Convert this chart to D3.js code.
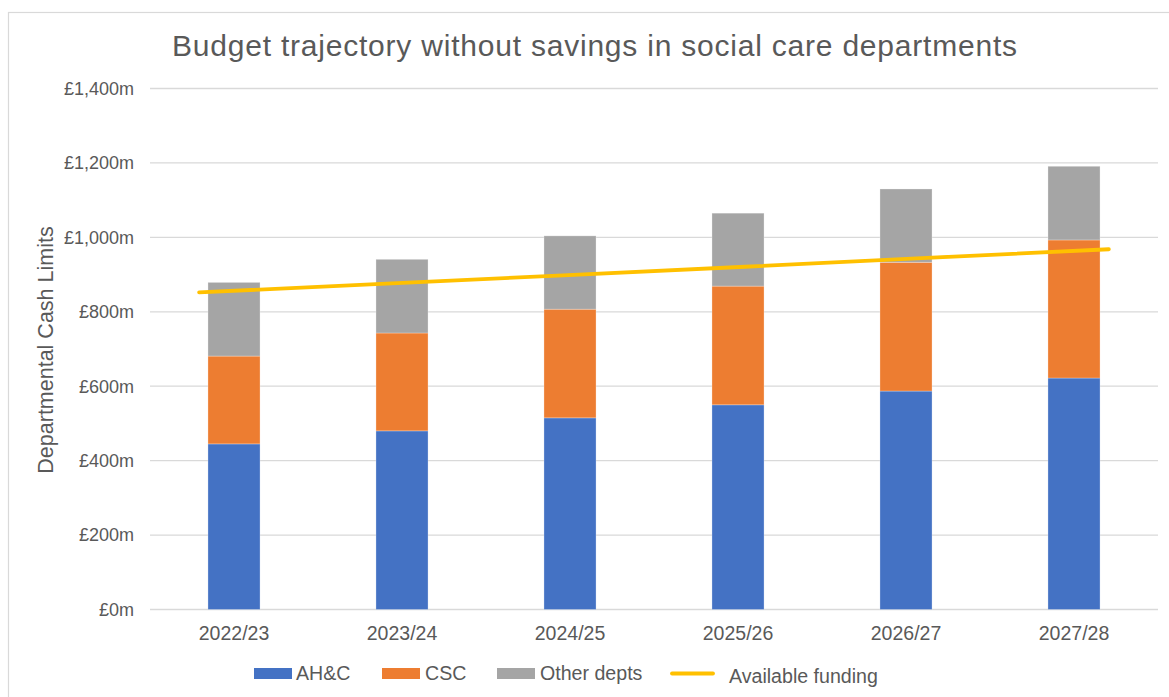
<!DOCTYPE html>
<html><head><meta charset="utf-8">
<script src="https://cdn.jsdelivr.net/npm/d3@7"></script>
<style>body{margin:0;background:#fff;font-family:"Liberation Sans",Arial,sans-serif;}</style>
</head><body><svg id="c" width="1169" height="697"></svg>
<script>
const categories = ["2022/23","2023/24","2024/25","2025/26","2026/27","2027/28"];
const ahc = [445, 480, 515, 550, 587, 622];
const csc = [236, 263, 292, 319, 346, 371];
const other = [198, 198, 197, 196, 197, 198];
const funding = [852, 875, 898, 921, 945, 968];
const yTicks = [0,200,400,600,800,1000,1200,1400];
const seriesNames = ["AH&C","CSC","Other depts"];
const colors = ["#4472C4","#ED7D31","#A5A5A5"];
const lineColor = "#FFC000";

const svg = d3.select("#c");
svg.append("rect").attr("x",8.5).attr("y",12.5).attr("width",1170).attr("height",700)
  .attr("fill","#fff").attr("stroke","#D9D9D9").attr("stroke-width",1.2);

const L=150, R=1158, T=88.5, B=609.5;
const x = d3.scaleBand().domain(categories).range([L,R]).paddingInner(0.69).paddingOuter(0.345);
const y = d3.scaleLinear().domain([0,1400]).range([B,T]);
const xl = d3.scalePoint().domain(categories).range([L,R]).padding(0.27);

// grid
svg.append("g").selectAll("line").data(yTicks).join("line")
  .attr("x1",L).attr("x2",R).attr("y1",d=>y(d)).attr("y2",d=>y(d))
  .attr("stroke","#D9D9D9").attr("stroke-width",1.3);

// y labels
svg.append("g").selectAll("text").data(yTicks).join("text")
  .attr("x",134).attr("y",d=>y(d)).attr("dy","0.35em").attr("text-anchor","end")
  .attr("font-size",18).attr("fill","#595959")
  .text(d=>"£"+d3.format(",")(d)+"m");

// stacked data
const rows = categories.map((c,i)=>({cat:c, "AH&C":ahc[i], "CSC":csc[i], "Other depts":other[i]}));
const stack = d3.stack().keys(seriesNames)(rows);
svg.append("g").selectAll("g").data(stack).join("g").attr("fill",(d,i)=>colors[i])
  .selectAll("rect").data(d=>d).join("rect")
  .attr("x",d=>x(d.data.cat)).attr("width",x.bandwidth())
  .attr("y",d=>y(d[1])).attr("height",d=>y(d[0])-y(d[1]))
  .attr("stroke","rgba(255,255,255,0.35)").attr("stroke-width",0.8);

// funding line
svg.append("path").datum(funding)
  .attr("d",d3.line().x((d,i)=>xl(categories[i])).y(d=>y(d)))
  .attr("fill","none").attr("stroke",lineColor).attr("stroke-width",3.8).attr("stroke-linecap","round");

// x labels
svg.append("g").selectAll("text").data(categories).join("text")
  .attr("x",d=>x(d)+x.bandwidth()/2).attr("y",640).attr("text-anchor","middle")
  .attr("font-size",19.5).attr("fill","#595959").text(d=>d);

// title
svg.append("text").attr("x",172).attr("y",56)
  .attr("font-size",30).attr("fill","#595959")
  .attr("textLength",845).attr("lengthAdjust","spacing")
  .text("Budget trajectory without savings in social care departments");

// y title
svg.append("text").attr("transform","translate(53,350) rotate(-90)").attr("text-anchor","middle")
  .attr("font-size",21.5).attr("fill","#595959").text("Departmental Cash Limits");

// legend
const lg = svg.append("g");
const legItems = [
  {name:"AH&C", type:"rect", color:colors[0], sx:254, tx:296},
  {name:"CSC", type:"rect", color:colors[1], sx:382, tx:425},
  {name:"Other depts", type:"rect", color:colors[2], sx:497, tx:540},
  {name:"Available funding", type:"line", color:lineColor, sx:672, tx:729}
];
legItems.forEach(it=>{
  if(it.type==="rect"){
    lg.append("rect").attr("x",it.sx).attr("y",668).attr("width",38).attr("height",11).attr("fill",it.color);
  } else {
    lg.append("line").attr("x1",it.sx).attr("x2",it.sx+41).attr("y1",673.5).attr("y2",673.5)
      .attr("stroke",it.color).attr("stroke-width",3.8).attr("stroke-linecap","round");
  }
  lg.append("text").attr("x",it.tx).attr("y",it.type==="line"?683:680).attr("font-size",19.6)
    .attr("fill","#595959").text(it.name);
});
</script></body></html>
